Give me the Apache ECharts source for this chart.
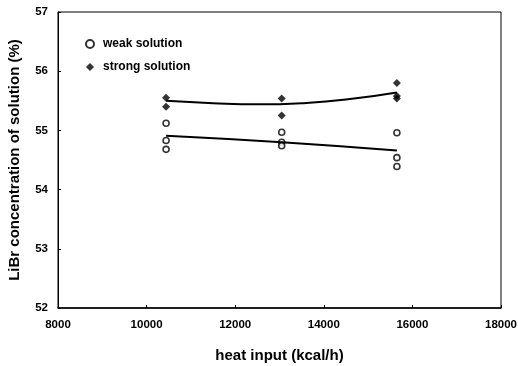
<!DOCTYPE html>
<html><head><meta charset="utf-8">
<script src="https://cdn.jsdelivr.net/npm/echarts@6/dist/echarts.min.js"></script>
<style>html,body{margin:0;padding:0;background:#fff}#c{width:518px;height:366px}</style>
</head><body><div id="c"></div>
<script>
const weakX = [10440, 10440, 10440, 13050, 13050, 13050, 15650, 15650, 15650];
const weakY = [55.12, 54.83, 54.68, 54.97, 54.80, 54.74, 54.96, 54.54, 54.39];
const strongX = [10440, 10440, 13050, 13050, 15650, 15650, 15650];
const strongY = [55.55, 55.40, 55.54, 55.25, 55.80, 55.58, 55.54];
const strongFitX = [10440, 11500, 12500, 13500, 14500, 15650];
const strongFitY = [55.50, 55.46, 55.44, 55.46, 55.52, 55.64];
const weakFitX = [10440, 13050, 15650];
const weakFitY = [54.91, 54.80, 54.66];
const xTicks = [8000, 10000, 12000, 14000, 16000, 18000];
const yTicks = [52, 53, 54, 55, 56, 57];

const zip = (a, b) => a.map((v, i) => [v, b[i]]);
const font = {fontFamily: 'Liberation Sans, Arial, sans-serif', fontWeight: 'bold', color: '#000'};
const chart = echarts.init(document.getElementById('c'));
chart.setOption({
  animation: false,
  grid: {left: 58, right: 17, top: 12, bottom: 58, show: true, borderColor: '#000', borderWidth: 1,
         outerBoundsMode: 'none', containLabel: false},
  legend: {
    data: [{name: 'weak solution', icon: 'circle'}, {name: 'strong solution', icon: 'diamond'}],
    orient: 'vertical', left: 80, top: 33, itemGap: 11,
    itemWidth: 8, itemHeight: 8,
    textStyle: Object.assign({fontSize: 12, padding: [0, 0, 0, 4]}, font)
  },
  xAxis: {
    type: 'value', min: xTicks[0], max: xTicks[xTicks.length - 1], interval: 2000,
    name: 'heat input (kcal/h)', nameLocation: 'middle', nameGap: 40,
    nameTextStyle: Object.assign({fontSize: 15}, font),
    axisLine: {lineStyle: {color: '#000', width: 1.5}},
    axisTick: {inside: true, length: 3, lineStyle: {color: '#000'}},
    axisLabel: Object.assign({fontSize: 11.5, margin: 11, formatter: v => String(v)}, font),
    splitLine: {show: false}
  },
  yAxis: {
    type: 'value', min: yTicks[0], max: yTicks[yTicks.length - 1], interval: 1,
    name: 'LiBr concentration of solution (%)', nameLocation: 'middle', nameGap: 36,
    nameTextStyle: Object.assign({fontSize: 15}, font),
    axisLine: {lineStyle: {color: '#000', width: 1}},
    axisTick: {inside: true, length: 3, lineStyle: {color: '#000'}},
    axisLabel: Object.assign({fontSize: 11.5, margin: 10}, font),
    splitLine: {show: false}
  },
  series: [
    {name: 'weak solution', type: 'scatter', data: zip(weakX, weakY), symbol: 'circle', symbolSize: 6,
     itemStyle: {color: '#fff', borderColor: '#000', borderWidth: 1.6}},
    {name: 'strong solution', type: 'scatter', data: zip(strongX, strongY), symbol: 'diamond', symbolSize: 8,
     itemStyle: {color: '#000'}},
    {name: 'strong fit', type: 'line', data: zip(strongFitX, strongFitY), smooth: true, showSymbol: false,
     lineStyle: {color: '#000', width: 2}},
    {name: 'weak fit', type: 'line', data: zip(weakFitX, weakFitY), smooth: true, showSymbol: false,
     lineStyle: {color: '#000', width: 2}}
  ]
});
</script></body></html>
